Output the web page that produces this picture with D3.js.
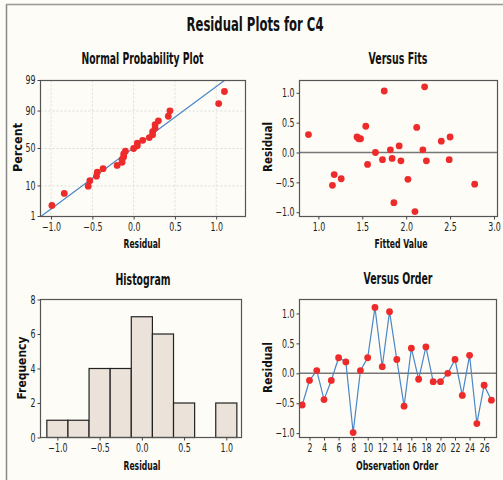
<!DOCTYPE html>
<html>
<head>
<meta charset="utf-8">
<script src="https://cdn.jsdelivr.net/npm/d3@7"></script>
<style>
  body{margin:0;background:#fdfcf6;}
  svg{display:block;}
  text{font-family:"DejaVu Sans Condensed","DejaVu Sans",sans-serif;}
  .tick text{font-size:11.5px;fill:#222;}
  .tick line{stroke:#444;}
  .domain{display:none;}
  .ttl{font-weight:bold;fill:#111;text-anchor:middle;}
</style>
</head>
<body>
<div id="chart"></div>
<script>
// residuals in observation order
const residuals=[-0.53,-0.12,0.045,-0.44,-0.12,0.26,0.19,-0.99,0.045,0.26,1.10,0.11,1.03,0.23,-0.55,0.42,-0.10,0.44,-0.14,-0.14,0.0,0.23,-0.37,0.30,-0.84,-0.20,-0.45];
// fitted values matching each residual
const fits=[2.78,1.73,1.82,1.26,2.49,1.44,2.40,2.10,2.19,2.50,2.21,1.92,1.75,1.46,1.16,2.12,1.84,1.54,1.94,2.23,1.65,1.48,1.18,0.887,1.86,1.56,2.02];
// histogram bins (centers) and counts
const binMids=[-1.0,-0.75,-0.5,-0.25,0.0,0.25,0.5,0.75,1.0];
const binCounts=[1,1,4,4,7,6,2,0,2];
const pctTicks=[1,10,50,90,99];
const resTicks=[-1.0,-0.5,0.0,0.5,1.0];
const fitTicks=[1.0,1.5,2.0,2.5,3.0];
const orderTicks=[2,4,6,8,10,12,14,16,18,20,22,24,26];
const freqTicks=[0,2,4,6,8];

const W=503,H=480;
const svg=d3.select("#chart").append("svg").attr("width",W).attr("height",H);

// page border from the scan
svg.append("line").attr("x1",6.5).attr("x2",6.5).attr("y1",4).attr("y2",H).attr("stroke","#888").attr("stroke-width",1.5);
svg.append("line").attr("x1",6).attr("x2",W).attr("y1",4.5).attr("y2",4.5).attr("stroke","#999").attr("stroke-width",1.5);

// squeezed bold text, like the narrow font of the original
function label(t,x,y,size,w,rot){
  const el=svg.append("text").attr("class","ttl").style("font-size",size+"px").text(t);
  if(rot) el.attr("transform","translate("+x+","+y+") rotate(-90)");
  else el.attr("x",x).attr("y",y);
  el.attr("textLength",w).attr("lengthAdjust","spacingAndGlyphs");
  return el;
}
label("Residual Plots for C4",255,31,19,137);

//inverse normal cdf (Acklam)
function qnorm(p){
  const a=[-39.69683028665376,220.9460984245205,-275.9285104469687,138.3577518672690,-30.66479806614716,2.506628277459239];
  const b=[-54.47609879822406,161.5858368580409,-155.6989798598866,66.80131188771972,-13.28068155288572];
  const c=[-0.007784894002430293,-0.3223964580411365,-2.400758277161838,-2.549732539343734,4.374664141464968,2.938163982698783];
  const d=[0.007784695709041462,0.3224671290700398,2.445134137142996,3.754408661907416];
  const pl=0.02425;
  let q,r;
  if(p<pl){q=Math.sqrt(-2*Math.log(p));return (((((c[0]*q+c[1])*q+c[2])*q+c[3])*q+c[4])*q+c[5])/((((d[0]*q+d[1])*q+d[2])*q+d[3])*q+1);}
  if(p>1-pl){q=Math.sqrt(-2*Math.log(1-p));return -(((((c[0]*q+c[1])*q+c[2])*q+c[3])*q+c[4])*q+c[5])/((((d[0]*q+d[1])*q+d[2])*q+d[3])*q+1);}
  q=p-0.5;r=q*q;
  return (((((a[0]*r+a[1])*r+a[2])*r+a[3])*r+a[4])*r+a[5])*q/(((((b[0]*r+b[1])*r+b[2])*r+b[3])*r+b[4])*r+1);
}

function frame(g,x0,x1,y0,y1){
  g.append("rect").attr("x",x0).attr("y",y0).attr("width",x1-x0).attr("height",y1-y0)
    .attr("fill","none").attr("stroke","#555").attr("stroke-width",1.2);
}
function axes(g,x,y,xt,yt,fx,fy,y1,x0){
  g.append("g").attr("transform","translate(0,"+y1+")")
    .call(d3.axisBottom(x).tickValues(xt).tickSize(3).tickPadding(3).tickFormat(fx));
  g.append("g").attr("transform","translate("+x0+",0)")
    .call(d3.axisLeft(y).tickValues(yt).tickSize(3).tickPadding(2).tickFormat(fy));
}
const f1=d3.format(".1f");

//---- Normal probability plot
{
  const g=svg.append("g");
  const L=40.5,R=245.5,T=80.5,B=216.5;
  const x=d3.scaleLinear().domain([-1.128,1.355]).range([L,R]);
  const zs=d3.scaleLinear().domain([qnorm(0.01),qnorm(0.99)]).range([B,T]);
  const y=p=>zs(qnorm(p/100));
  //grid
  g.selectAll(".gx").data(resTicks).enter().append("line")
    .attr("x1",d=>x(d)).attr("x2",d=>x(d)).attr("y1",T).attr("y2",B)
    .attr("stroke","#ddd").attr("stroke-dasharray","2,2");
  g.selectAll(".gy").data(pctTicks.slice(1,4)).enter().append("line")
    .attr("x1",L).attr("x2",R).attr("y1",d=>y(d)).attr("y2",d=>y(d))
    .attr("stroke","#ddd").attr("stroke-dasharray","2,2");
  const n=residuals.length;
  const mean=d3.mean(residuals),sd=d3.deviation(residuals);
  const sorted=residuals.slice().sort(d3.ascending);
  const pts=sorted.map((r,i)=>({r:r,p:100*(i+1-0.3)/(n+0.4)}));
  g.append("line").attr("x1",x(mean+sd*qnorm(0.01))).attr("y1",y(1))
    .attr("x2",x(mean+sd*qnorm(0.99))).attr("y2",y(99))
    .attr("stroke","#4a86c8").attr("stroke-width",1.2);
  g.selectAll("circle").data(pts).enter().append("circle")
    .attr("cx",d=>x(d.r)).attr("cy",d=>y(d.p)).attr("r",3.4).attr("fill","#ee2b2b");
  frame(g,L,R,T,B);
  g.append("g").attr("transform","translate(0,"+B+")")
    .call(d3.axisBottom(x).tickValues(resTicks).tickSize(3).tickPadding(3).tickFormat(f1));
  const yax=g.append("g").attr("transform","translate("+L+",0)");
  yax.selectAll("g").data(pctTicks).enter().append("g").attr("class","tick")
    .attr("transform",d=>"translate(0,"+y(d)+")").each(function(d){
      d3.select(this).append("line").attr("x2",-3);
      d3.select(this).append("text").attr("x",-5).attr("dy","0.32em").attr("text-anchor","end").text(d);
    });
  label("Normal Probability Plot",142.5,64,15,122);
  label("Residual",142,248,12,37);
  label("Percent",22,147.5,12,49,true);
}

//---- Versus fits
{
  const g=svg.append("g");
  const L=299.5,R=497.5,T=80.5,B=216.5;
  const x=d3.scaleLinear().domain([0.785,3.04]).range([L,R]);
  const y=d3.scaleLinear().domain([-1.072,1.206]).range([B,T]);
  g.append("line").attr("x1",L).attr("x2",R).attr("y1",y(0)).attr("y2",y(0)).attr("stroke","#777").attr("stroke-width",1.5);
  g.selectAll("circle").data(residuals).enter().append("circle")
    .attr("cx",(d,i)=>x(fits[i])).attr("cy",d=>y(d)).attr("r",3.4).attr("fill","#ee2b2b");
  frame(g,L,R,T,B);
  axes(g,x,y,fitTicks,resTicks,f1,f1,B,L);
  label("Versus Fits",398,64,15,59);
  label("Fitted Value",401,248,12,53);
  label("Residual",272,147,12,50,true);
}

//---- Histogram
{
  const g=svg.append("g");
  const L=40.5,R=241.5,T=299.5,B=437.5;
  const x=d3.scaleLinear().domain([-1.2,1.18]).range([L,R]);
  const y=d3.scaleLinear().domain([0,8]).range([B,T]);
  g.selectAll("rect.bar").data(binCounts).enter().append("rect").attr("class","bar")
    .attr("x",(d,i)=>x(binMids[i]-0.125)).attr("width",(d,i)=>x(binMids[i]+0.125)-x(binMids[i]-0.125))
    .attr("y",d=>y(d)).attr("height",d=>B-y(d))
    .attr("fill","#ebe3d9").attr("stroke","#222").attr("stroke-width",1.2);
  frame(g,L,R,T,B);
  axes(g,x,y,resTicks,freqTicks,f1,d3.format("d"),B,L);
  label("Histogram",143,285,15,55);
  label("Residual",142,470,12,37);
  label("Frequency",26,368,12,63,true);
}

//---- Versus order
{
  const g=svg.append("g");
  const L=299.5,R=496.5,T=299.5,B=437.5;
  const x=d3.scaleLinear().domain([0.63,27.7]).range([L,R]);
  const y=d3.scaleLinear().domain([-1.073,1.233]).range([B,T]);
  g.append("line").attr("x1",L).attr("x2",R).attr("y1",y(0)).attr("y2",y(0)).attr("stroke","#777").attr("stroke-width",1.5);
  g.append("path").datum(residuals)
    .attr("d",d3.line().x((d,i)=>x(i+1)).y(d=>y(d)))
    .attr("fill","none").attr("stroke","#4a86c8").attr("stroke-width",1.2);
  g.selectAll("circle").data(residuals).enter().append("circle")
    .attr("cx",(d,i)=>x(i+1)).attr("cy",d=>y(d)).attr("r",3.4).attr("fill","#ee2b2b");
  frame(g,L,R,T,B);
  axes(g,x,y,orderTicks,resTicks,d3.format("d"),f1,B,L);
  label("Versus Order",398,284,15,69);
  label("Observation Order",397,470,12,82);
  label("Residual",272,367.5,12,51,true);
}

// narrow the tick labels too
svg.selectAll(".tick text").each(function(){
  const l=this.getComputedTextLength();
  d3.select(this).attr("textLength",l*0.76).attr("lengthAdjust","spacingAndGlyphs");
});
</script>
</body>
</html>
